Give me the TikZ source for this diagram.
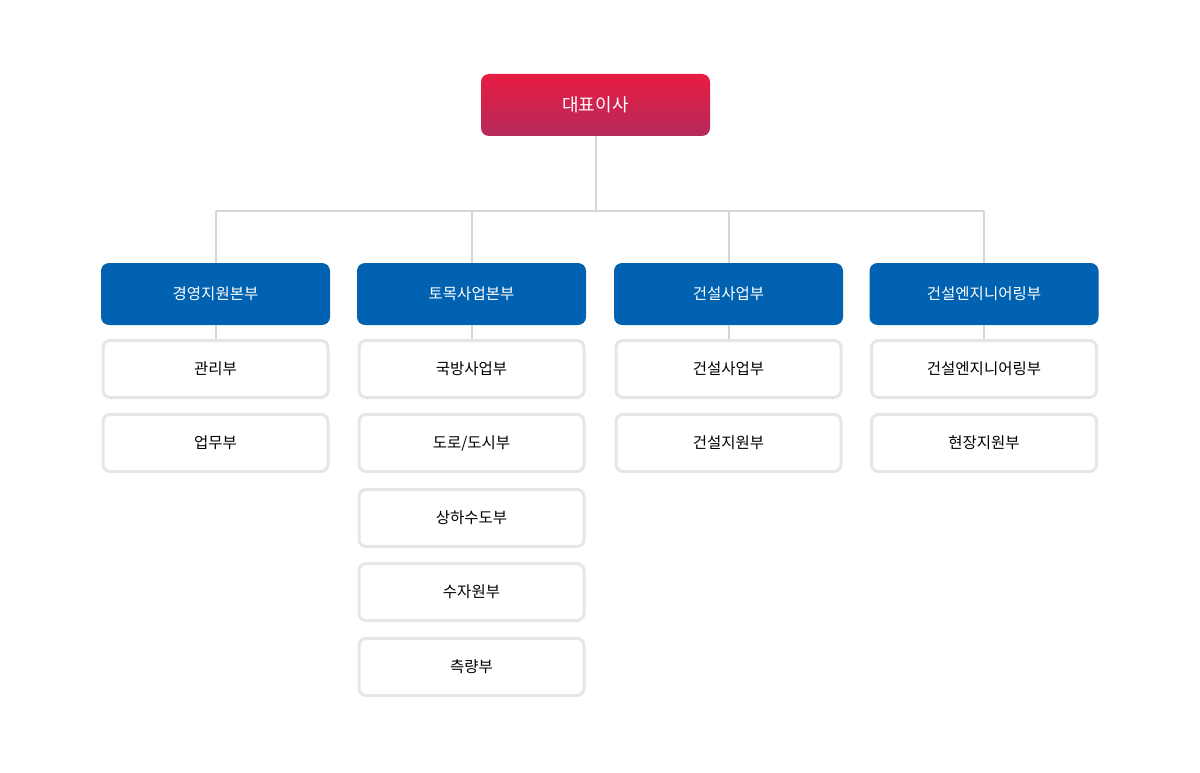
\documentclass[tikz,border=0pt]{standalone}
\usepackage{fontspec}
\setmainfont{Noto Sans CJK KR}
\definecolor{ceotop}{RGB}{232,28,66}
\definecolor{ceobot}{RGB}{181,42,90}
\definecolor{deptblue}{RGB}{0,98,176}
\definecolor{subline}{RGB}{230,230,230}
\definecolor{connline}{RGB}{214,214,214}
\begin{document}
\begin{tikzpicture}[x=1pt,y=-1pt,
  ceo/.style={rounded corners=8pt,minimum width=229pt,minimum height=62pt,top color=ceotop,bottom color=ceobot,text=white,font=\fontsize{18}{20}\selectfont,inner sep=0pt},
  dept/.style={rounded corners=8pt,minimum width=229pt,minimum height=62pt,fill=deptblue,text=white,font=\fontsize{15.5}{18}\selectfont,inner sep=0pt},
  sub/.style={rounded corners=7pt,minimum width=225pt,minimum height=57pt,draw=subline,line width=3pt,fill=white,text=black,font=\fontsize{15.5}{18}\selectfont,inner sep=0pt},
  conn/.style={draw=connline,line width=2pt}]
\useasboundingbox (0,0) rectangle (1200,773);
\node[ceo] (ceo) at (595.5,105) {대표이사};
\coordinate (hub) at (595.5,211);
\coordinate (d1top) at (215.5,211);
\coordinate (d2top) at (471.5,211);
\coordinate (d3top) at (728.5,211);
\coordinate (d4top) at (984,211);
\draw[conn] (ceo.south) -- (hub);
\draw[conn] (d1top) -- (d4top);
\node[dept] (d1) at (215.5,294) {경영지원본부};
\node[dept] (d2) at (471.5,294) {토목사업본부};
\node[dept] (d3) at (728.5,294) {건설사업부};
\node[dept] (d4) at (984,294) {건설엔지니어링부};
\foreach \n in {d1,d2,d3,d4}{\draw[conn] (\n top) -- (\n.north);}
\draw[conn] (215.5,325) -- (215.5,341);
\draw[conn] (471.5,325) -- (471.5,341);
\draw[conn] (728.5,325) -- (728.5,341);
\draw[conn] (984,325) -- (984,341);
\node[sub] (a1) at (215.5,369) {관리부};
\node[sub] (a2) at (215.5,443) {업무부};
\node[sub] (b1) at (471.5,369) {국방사업부};
\node[sub] (b2) at (471.5,443) {도로/도시부};
\node[sub] (b3) at (471.5,518) {상하수도부};
\node[sub] (b4) at (471.5,592) {수자원부};
\node[sub] (b5) at (471.5,667) {측량부};
\node[sub] (c1) at (728.5,369) {건설사업부};
\node[sub] (c2) at (728.5,443) {건설지원부};
\node[sub] (e1) at (984,369) {건설엔지니어링부};
\node[sub] (e2) at (984,443) {현장지원부};
\end{tikzpicture}
\end{document}
